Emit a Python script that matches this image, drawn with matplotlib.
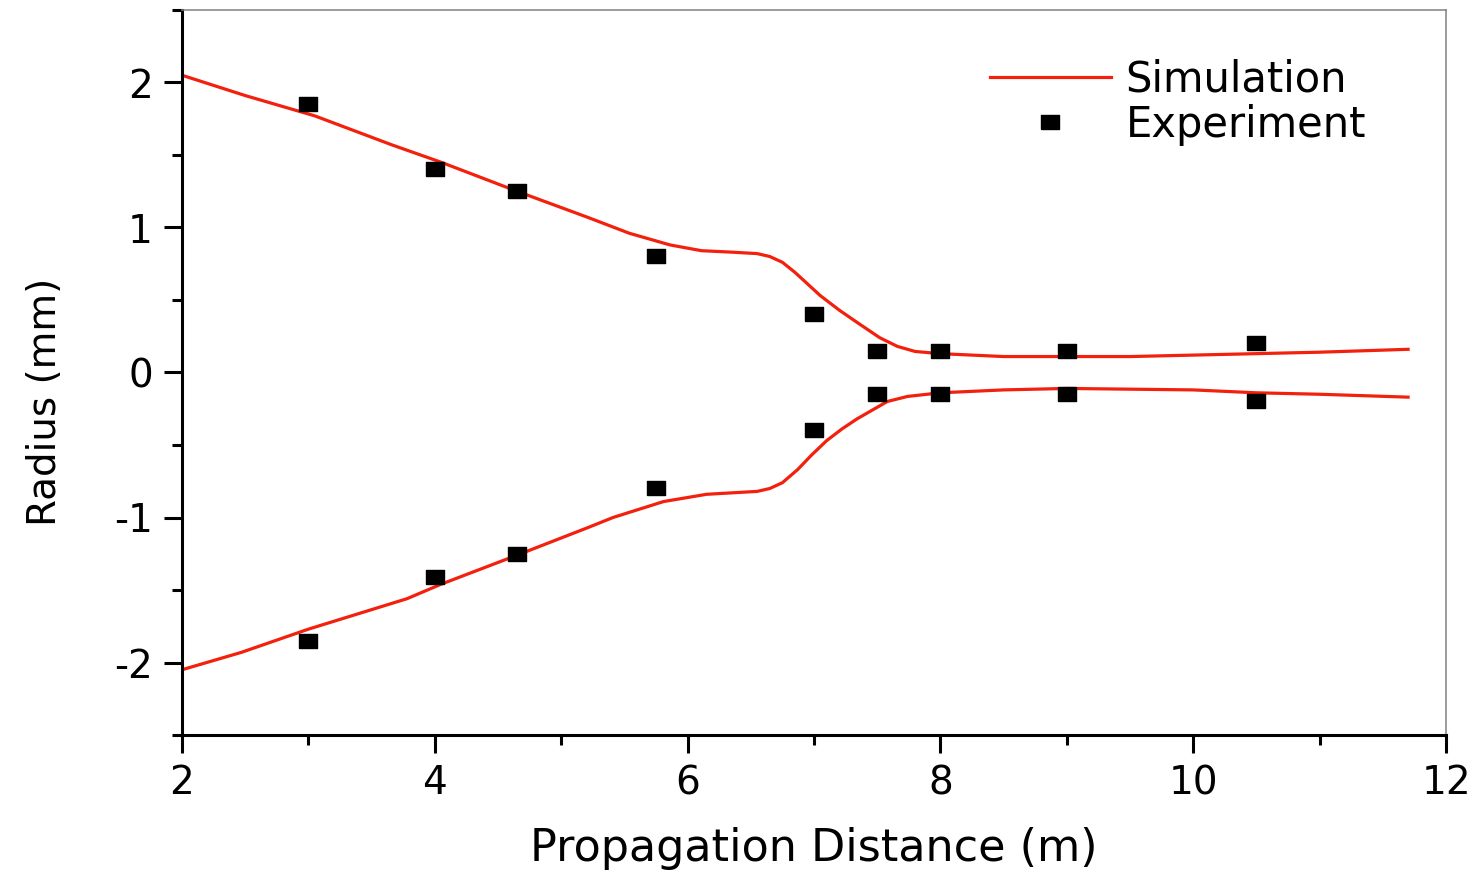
import numpy as np
import matplotlib
matplotlib.use('Agg')
import matplotlib.pyplot as plt
from matplotlib.ticker import MultipleLocator

plt.rcParams['font.family'] = ['DejaVu Sans']
plt.rcParams['axes.unicode_minus'] = False

# simulation curves
sim_x_up = [2.0, 2.5, 3.05, 3.66, 4.05, 4.65, 5.21, 5.54, 5.86, 6.11, 6.35, 6.55, 6.65, 6.75, 6.85,
            6.95, 7.05, 7.2, 7.35, 7.52, 7.66, 7.8, 8.0, 8.5, 9.0, 9.5, 10.0, 10.5, 11.0, 11.7]
sim_y_up = [2.05, 1.91, 1.77, 1.57, 1.45, 1.25, 1.07, 0.96, 0.88, 0.84, 0.83, 0.82, 0.80, 0.76, 0.69,
            0.61, 0.53, 0.43, 0.34, 0.24, 0.18, 0.145, 0.13, 0.11, 0.11, 0.11, 0.12, 0.13, 0.14, 0.16]
sim_x_low = [2.0, 2.47, 3.0, 3.78, 4.05, 4.65, 5.21, 5.41, 5.81, 6.15, 6.35, 6.55, 6.65, 6.75, 6.87,
             6.98, 7.1, 7.22, 7.34, 7.58, 7.74, 8.0, 8.5, 9.0, 10.0, 10.5, 11.0, 11.7]
sim_y_low = [-2.05, -1.93, -1.77, -1.56, -1.46, -1.26, -1.07, -1.0, -0.89, -0.84, -0.83, -0.82, -0.80, -0.76, -0.67,
             -0.57, -0.47, -0.39, -0.32, -0.20, -0.165, -0.14, -0.12, -0.11, -0.12, -0.14, -0.15, -0.17]

# experiment points
exp_x = [3.0, 4.0, 4.65, 5.75, 7.0, 7.5, 8.0, 9.0, 10.5]
exp_y_up = [1.85, 1.40, 1.25, 0.80, 0.40, 0.15, 0.15, 0.15, 0.20]
exp_y_low = [-1.85, -1.41, -1.25, -0.80, -0.40, -0.15, -0.15, -0.15, -0.20]

red = '#f2200c'
rect = [(-1, -0.72), (1, -0.72), (1, 0.72), (-1, 0.72), (-1, -0.72)]

fig = plt.figure(figsize=(14.82, 8.72), dpi=100)
ax = fig.add_axes([182/1482, 1-735/872, (1446-182)/1482, (735-10)/872])

ax.plot(sim_x_up, sim_y_up, color=red, lw=2.3, label='Simulation')
ax.plot(sim_x_low, sim_y_low, color=red, lw=2.3)
ax.plot(exp_x, exp_y_up, ls='none', marker=rect, ms=13.5, color='black', label='Experiment')
ax.plot(exp_x, exp_y_low, ls='none', marker=rect, ms=13.5, color='black')

ax.set_xlim(2, 12)
ax.set_ylim(-2.5, 2.5)
ax.xaxis.set_major_locator(MultipleLocator(2))
ax.xaxis.set_minor_locator(MultipleLocator(1))
ax.yaxis.set_major_locator(MultipleLocator(1))
ax.yaxis.set_minor_locator(MultipleLocator(0.5))

for s in ['left', 'bottom']:
    ax.spines[s].set_linewidth(2.2)
    ax.spines[s].set_color('black')
for s in ['top', 'right']:
    ax.spines[s].set_linewidth(1.1)
    ax.spines[s].set_color('#808080')

ax.tick_params(which='major', direction='out', length=13, width=2.2, labelsize=28, pad=8)
ax.tick_params(which='minor', direction='out', length=7, width=2.2)
ax.tick_params(top=False, right=False, which='both')

ax.set_xlabel('Propagation Distance (m)', fontsize=32, labelpad=18)
ax.set_ylabel('Radius (mm)', fontsize=28)
ax.yaxis.set_label_coords(-0.093, 0.459)

ax.legend(loc='upper left', bbox_to_anchor=(990/1482, 1-59/872), bbox_transform=fig.transFigure,
          frameon=False, fontsize=30, handlelength=2.9, handletextpad=0.35,
          labelspacing=0.07, borderpad=0, borderaxespad=0)

fig.savefig('out.png', dpi=100)
